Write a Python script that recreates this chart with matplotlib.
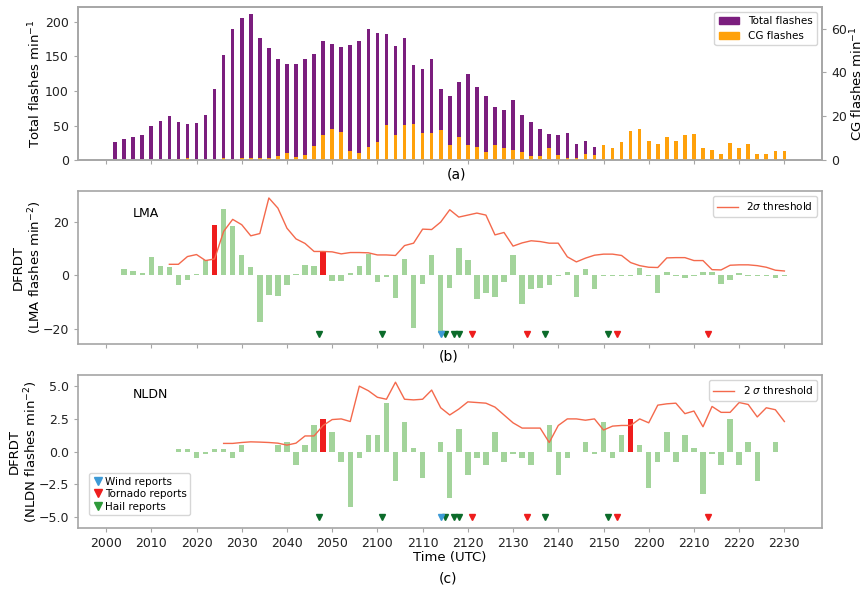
# Lightning flash rates and DFRDT jumps, 2000-2230 UTC
import numpy as np
import matplotlib.pyplot as plt
from matplotlib.lines import Line2D
from matplotlib.patches import Patch

# time axis in minutes after 2000 UTC (2-min bins)
tick_min = np.arange(0, 151, 10)
tick_lbl = ['2000', '2010', '2020', '2030', '2040', '2050', '2100', '2110',
            '2120', '2130', '2140', '2150', '2200', '2210', '2220', '2230']

# (a) flash rates
t_total = np.arange(2, 109, 2)
total = [26, 30.5, 34, 36, 50, 57, 64, 56, 52, 54,
         65, 103, 152, 190, 205, 212, 177, 162, 147, 139,
         139, 147, 154, 172, 168, 164, 166, 173, 189, 184,
         182, 165, 177, 138, 132, 146, 103, 93, 113, 125,
         106, 93, 77, 73, 87, 65, 55, 45, 38, 37,
         39, 23, 28, 19]
t_cg = np.arange(2, 151, 2)
cg = [0, 0, 0, 0, 0, 0, 0.3, 0.6, 1.2, 0.3,
      0, 0.3, 0.9, 0.3, 0.9, 0.9, 0.9, 0.9, 2, 3.4,
      1.4, 2.4, 6.6, 11.5, 14.4, 13, 4.4, 3.4, 6, 8.4,
      16, 11.5, 16, 16.5, 12.5, 12.5, 14, 7, 10.5, 6.9,
      6, 3.8, 6.9, 5.5, 4.8, 3.8, 1.8, 1.8, 5.8, 2.3,
      1.2, 1.2, 2.8, 2.3, 6.9, 5.8, 8.4, 13.3, 14.4, 8.9,
      7.3, 10.4, 8.9, 11.5, 11.9, 5.4, 4.9, 2.9, 8.0, 5.8,
      7.3, 2.9, 2.9, 4.3, 4.3]

# (b) LMA DFRDT
t_lma = np.arange(4, 151, 2)
lma = [2.25, 1.6, 1.0, 6.9, 3.5, 3.25, -3.75, -1.9, 0.6, 5.6,
       18.9, 24.75, 18.5, 7.6, 3.25, -17.5, -7.25, -7.75, -3.6, 0.3,
       3.9, 3.5, 9.1, -2.25, -2.25, 1.0, 3.5, 8.0, -2.6, -0.75,
       -8.4, 6.25, -19.6, -3.4, 7.4, -21.5, -4.9, 10.1, 5.6, -9,
       -6.75, -8, -2.5, 7.4, -10.9, -5.25, -4.75, -3.75, -0.3, 1.1,
       -8, 2.4, -5, -0.3, -0.3, -0.3, -0.3, 2.9, -0.3, -6.5,
       1.4, -0.3, -1.0, -0.3, 1.25, 1.1, -3.4, -1.75, 0.9, -0.3,
       -0.3, -0.3, -1.1, -0.3]
t_lma_thr = np.arange(14, 151, 2)
lma_thr = [4.1, 4.1, 7, 7.75, 5.5, 6.1, 16.4, 20.9, 18.9, 14.75,
           15.6, 28.9, 25.1, 17.6, 13.6, 11.9, 8.9, 8.9, 8.75, 8.0,
           8.5, 8.5, 8.4, 7.6, 7.6, 7.4, 11.1, 12, 17.25, 17.1,
           19.9, 24.5, 21.75, 22.5, 23.25, 22.5, 15.1, 16, 10.9, 12.1,
           12.9, 12.6, 12, 12, 6.9, 5, 6.4, 7.5, 7.9, 7.9,
           7.4, 4.75, 3.6, 3, 2.9, 6.5, 6.6, 6.6, 5.5, 5.5,
           2.1, 2.0, 3.75, 3.9, 3.9, 3.6, 3, 1.9, 1.6]
lma_jumps = [24, 48]

# (c) NLDN DFRDT
t_nldn = np.arange(16, 149, 2)
nldn = [0.2, 0.2, -0.5, -0.2, 0.2, 0.2, -0.5, 0.5, 0, 0,
        0, 0.5, 0.75, -1.0, 0.5, 2.0, 2.5, 1.5, -0.75, -4.25,
        -0.5, 1.25, 1.25, 3.75, -2.25, 2.25, 0.25, -2.0, 0, 0.75,
        -3.5, 1.75, -1.75, -0.5, -1.0, 1.5, -0.75, -0.2, -0.5, -1.0,
        0, 2.0, -1.75, -0.5, 0, 0.75, -0.2, 2.25, -0.5, 1.25,
        2.5, 0.5, -2.75, -0.75, 1.5, -0.75, 1.25, 0.25, -3.25, -0.2,
        -1.0, 2.5, -1.0, 0.75, -2.25, 0, 0.75]
t_nldn_thr = np.arange(26, 151, 2)
nldn_thr = [0.63, 0.63, 0.7, 0.75, 0.73, 0.7, 0.65, 0.5, 0.65, 1.2,
            1.2, 2.0, 2.45, 2.5, 2.3, 5.0, 4.65, 4.15, 4.0, 5.3,
            4.0, 3.95, 4.0, 4.7, 3.35, 2.8, 3.25, 3.8, 3.75, 3.7,
            3.4, 2.8, 2.2, 1.8, 1.8, 1.8, 0.7, 2.0, 2.5, 2.5,
            2.4, 2.5, 1.65, 1.95, 2.0, 2.0, 2.5, 2.2, 3.55, 3.65,
            3.7, 2.9, 3.1, 1.9, 3.45, 3.0, 3.0, 3.75, 3.6, 2.65,
            3.35, 3.2, 2.3]
nldn_jumps = [48, 116]

# storm reports (minutes after 2000 UTC)
hail_t = [47, 61, 75, 77, 78, 97, 111]
wind_t = [74]
tornado_t = [81, 93, 113, 133]

GREEN = '#a3d49b'
RED = '#ee1d1d'
THR = '#f4694c'
HAIL = '#0b6b2a'
WIND = '#3d9ad6'
SPINE = '#a6a6a6'

fig = plt.figure(figsize=(8.64, 5.91), dpi=100)
ax_a = fig.add_axes([0.0903, 0.7288, 0.861, 0.2600])
ax_b = fig.add_axes([0.0903, 0.4179, 0.861, 0.2589])
ax_c = fig.add_axes([0.0903, 0.1071, 0.861, 0.2584])


def style(ax):
    for s in ax.spines.values():
        s.set_color(SPINE)
        s.set_linewidth(1.2)
    ax.tick_params(color=SPINE, labelcolor='#222222', labelsize=9, length=3)
    ax.set_xlim(-6.2, 158.3)
    ax.set_xticks(tick_min)


# ---- (a)
style(ax_a)
ax_a.bar(t_total, total, width=0.8, color='#7b1e7e')
ax_a.set_ylim(0, 222)
ax_a.set_yticks([0, 50, 100, 150, 200])
ax_a.tick_params(labelbottom=False)
ax_a.set_ylabel('Total flashes min$^{-1}$', fontsize=9.5, labelpad=1)
ax2 = ax_a.twinx()
style(ax2)
ax2.bar(t_cg, cg, width=0.8, color='#ffa10a')
ax2.set_ylim(0, 70)
ax2.set_yticks([0, 20, 40, 60])
ax2.tick_params(labelbottom=False)
ax2.set_ylabel('CG flashes min$^{-1}$', fontsize=9.5, labelpad=1)
ax2.legend([Patch(color='#7b1e7e'), Patch(color='#ffa10a')],
           ['Total flashes', 'CG flashes'], loc='upper right', fontsize=7.5)

# ---- (b)
style(ax_b)
lma_col = [RED if t in lma_jumps else GREEN for t in t_lma]
ax_b.bar(t_lma, lma, width=1.2, color=lma_col)
ax_b.plot(t_lma_thr, lma_thr, color=THR, lw=1, label='2$\\sigma$ threshold')
ax_b.legend(loc='upper right', fontsize=7.5)
ax_b.plot(hail_t, [-22] * len(hail_t), 'v', color=HAIL, ms=5)
ax_b.plot(wind_t, [-22] * len(wind_t), 'v', color=WIND, ms=5)
ax_b.plot(tornado_t, [-22] * len(tornado_t), 'v', color=RED, ms=5)
ax_b.set_ylim(-25.7, 31.5)
ax_b.set_yticks([-20, 0, 20])
ax_b.tick_params(labelbottom=False)
ax_b.set_ylabel('DFRDT\n(LMA flashes min$^{-2}$)', fontsize=9.5,
                labelpad=-1, linespacing=1.1)
ax_b.text(0.074, 0.855, 'LMA', transform=ax_b.transAxes, fontsize=9, va='center')

# ---- (c)
style(ax_c)
nldn_col = [RED if t in nldn_jumps else GREEN for t in t_nldn]
ax_c.bar(t_nldn, nldn, width=1.2, color=nldn_col)
thr_line, = ax_c.plot(t_nldn_thr, nldn_thr, color=THR, lw=1, label='2 $\\sigma$ threshold')
ax_c.plot(hail_t, [-5] * len(hail_t), 'v', color=HAIL, ms=5)
ax_c.plot(wind_t, [-5] * len(wind_t), 'v', color=WIND, ms=5)
ax_c.plot(tornado_t, [-5] * len(tornado_t), 'v', color=RED, ms=5)
ax_c.set_ylim(-5.8, 5.85)
ax_c.set_yticks([-5, -2.5, 0, 2.5, 5])
ax_c.set_xticklabels(tick_lbl)
ax_c.set_xlabel('Time (UTC)', fontsize=9.5, labelpad=1)
ax_c.set_ylabel('DFRDT\n(NLDN flashes min$^{-2}$)', fontsize=9.5,
                labelpad=-1, linespacing=1.1)
ax_c.text(0.074, 0.87, 'NLDN', transform=ax_c.transAxes, fontsize=9, va='center')
leg1 = ax_c.legend(handles=[thr_line], loc='upper right', fontsize=7.5)
ax_c.add_artist(leg1)
rep = [Line2D([], [], ls='none', marker='v', color=WIND, ms=6),
       Line2D([], [], ls='none', marker='v', color=RED, ms=6),
       Line2D([], [], ls='none', marker='v', color='#2e9a3a', ms=6)]
ax_c.legend(rep, ['Wind reports', 'Tornado reports', 'Hail reports'],
            loc='lower left', bbox_to_anchor=(0.008, 0.05), fontsize=7.5,
            handletextpad=0.2, labelspacing=0.25, borderpad=0.3, handlelength=1)

fig.text(456 / 864, 1 - 175 / 591, '(a)', ha='center', va='center', fontsize=10)
fig.text(449 / 864, 1 - 356 / 591, '(b)', ha='center', va='center', fontsize=10)
fig.text(448 / 864, 1 - 578 / 591, '(c)', ha='center', va='center', fontsize=10)

fig.savefig('out.png', dpi=100)
